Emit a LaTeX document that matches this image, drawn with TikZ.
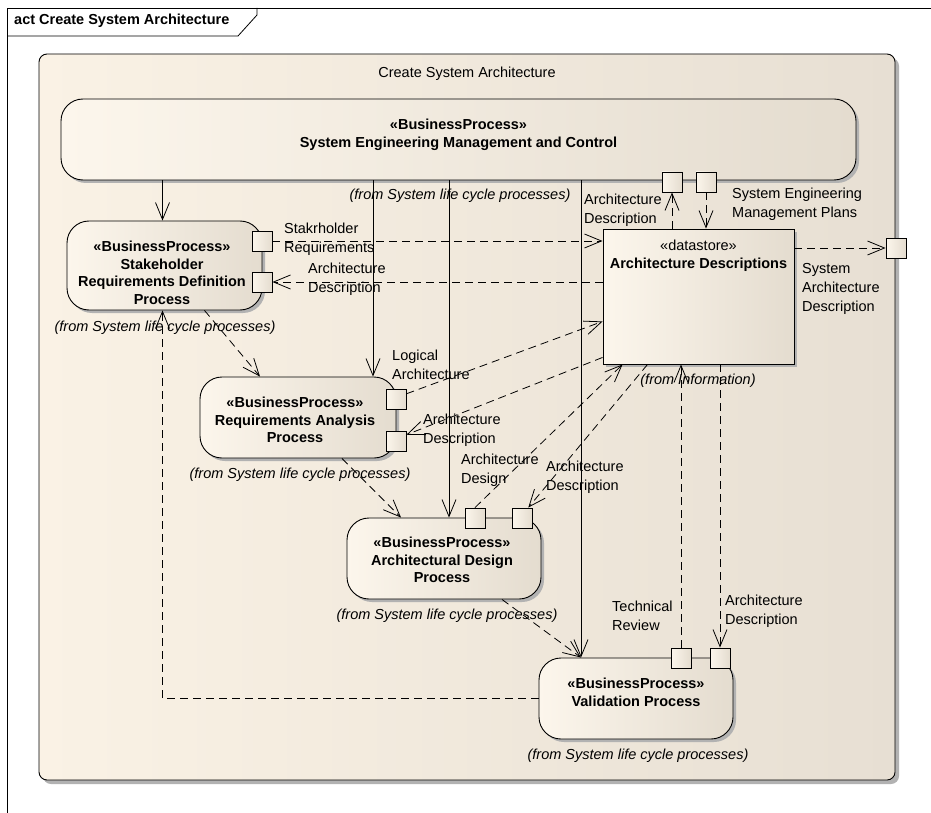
\documentclass[tikz,border=0pt]{standalone}
\usepackage{fontspec}
\setmainfont{Liberation Sans}
\usetikzlibrary{arrows.meta,calc,shadows}
\definecolor{bgL}{RGB}{250,242,229}
\definecolor{bgR}{RGB}{231,223,211}
\definecolor{ndL}{RGB}{252,246,236}
\definecolor{ndR}{RGB}{228,220,207}
\definecolor{shd}{RGB}{178,178,178}
\tikzset{
  container/.style={draw, line width=0.9pt, rounded corners=8pt, left color=bgL, right color=bgR,
    drop shadow={shadow xshift=4pt, shadow yshift=-4pt, fill=shd, opacity=1}, inner sep=0},
  proc/.style={draw, line width=0.9pt, rounded corners=22pt, left color=ndL, right color=ndR,
    drop shadow={shadow xshift=3pt, shadow yshift=-3pt, fill=shd, opacity=1}, inner sep=0},
  store/.style={draw, line width=0.9pt, left color=ndL, right color=ndR,
    drop shadow={shadow xshift=3pt, shadow yshift=-3pt, fill=shd, opacity=1}, inner sep=0},
  port/.style={draw, line width=0.9pt, left color=ndL, right color=ndR,
    minimum width=20pt, minimum height=20pt, inner sep=0},
  ctrl/.style={line width=0.8pt, -{Straight Barb[length=17pt,width=14pt]}},
  objf/.style={ctrl, dash pattern=on 8pt off 5pt},
  ptext/.style={font=\bfseries\fontsize{14.5}{17.5}\selectfont, align=center, inner sep=0, anchor=north},
  lbl/.style={font=\fontsize{14.5}{19}\selectfont, align=left, inner sep=0, anchor=north west},
  fromtxt/.style={font=\itshape\fontsize{14.5}{17}\selectfont, inner sep=0},
}
\begin{document}
\begin{tikzpicture}[x=1pt,y=-1pt]
\useasboundingbox (0,0) rectangle (931,813);
\fill[white] (0,0) rectangle (931,813);

% outer frame
\draw[line width=0.8pt] (7,813) -- (7,8) -- (931,8);
\draw[line width=0.8pt] (7,36) -- (238,36) -- (257,15) -- (257,8);
\node[anchor=west, font=\bfseries\fontsize{14.5}{17}\selectfont, inner sep=0] (title) at (14,21) {act Create System Architecture};

% activity container
\node[container, minimum width=856, minimum height=726] (act) at (467,417) {};
\node[font=\fontsize{14.5}{17}\selectfont, inner sep=0] (acttitle) at (467,74) {Create System Architecture};

% process nodes
\node[proc, minimum width=795, minimum height=81] (semc) at (458.5,139.5) {};
\node[ptext] (semct) at (458.5,118.8) {«BusinessProcess»\\System Engineering Management and Control};

\node[proc, minimum width=195, minimum height=89] (sh) at (164.5,265.5) {};
\node[ptext] (sht) at (162,240.8) {«BusinessProcess»\\Stakeholder\\Requirements Definition\\Process};

\node[proc, minimum width=196, minimum height=81] (ra) at (298,417.5) {};
\node[ptext] (rat) at (295,396.8) {«BusinessProcess»\\Requirements Analysis\\Process};

\node[proc, minimum width=194, minimum height=81] (ad) at (444,558.5) {};
\node[ptext] (adt) at (442,536.8) {«BusinessProcess»\\Architectural Design\\Process};

\node[proc, minimum width=194, minimum height=81] (val) at (636,698.5) {};
\node[ptext] (valt) at (636,677.8) {«BusinessProcess»\\Validation Process};

\node[store, minimum width=191, minimum height=135] (ds) at (698.5,296.5) {};
\node[font=\fontsize{14.5}{18}\selectfont, align=center, inner sep=0, anchor=north] (dst) at (698.5,239.8) {«datastore»\\\textbf{Architecture Descriptions}};

% ports
\node[port] (semcp1) at (672,182) {};
\node[port] (semcp2) at (706,182) {};
\node[port] (shp1) at (262,241) {};
\node[port] (shp2) at (262,282) {};
\node[port] (rap1) at (396,399) {};
\node[port] (rap2) at (396,441) {};
\node[port] (adp1) at (475,518) {};
\node[port] (adp2) at (522,518) {};
\node[port] (valp1) at (681,658) {};
\node[port] (valp2) at (720,658) {};
\node[port] (outp) at (896,248) {};

% control flows from SEMC
\coordinate (raIn) at ($(ra.north)+(75,0)$);
\coordinate (adIn) at ($(ad.north)+(5,0)$);
\coordinate (valIn) at ($(val.north)+(-55,0)$);
\coordinate (shIn) at ($(sh.north)+(-2,0)$);
\draw[ctrl] (shIn |- semc.south) -- (shIn);
\draw[ctrl] (raIn |- semc.south) -- (raIn);
\draw[ctrl] (adIn |- semc.south) -- (adIn);
\draw[ctrl] (valIn |- semc.south) -- (valIn);

% control flows between processes
\draw[objf] ($(sh.south)+(40,0)$) -- ($(ra.north)+(-38,0)$);
\draw[objf] ($(ra.south)+(44,0)$) -- ($(ad.north)+(-43,0)$);
\draw[objf] ($(ad.south)+(58,0)$) -- (valIn);
\draw[objf] (val.west) -| (shIn |- sh.south);

% object flows
\draw[objf] (shp1.east) -- (shp1.east -| ds.west);
\draw[objf] (shp2.east -| ds.west) -- (shp2.east);
\draw[objf] ($(rap1.east)!0.5!(rap1.north east)$) -- ($(ds.south west)+(0,-43)$);
\draw[objf] ($(ds.south west)+(0,-7)$) -- ($(rap2.east)!0.6!(rap2.north east)$);
\draw[objf] (adp1.north) -- ($(ds.south west)+(20,0)$);
\draw[objf] ($(ds.south west)+(45,0)$) -- ($(adp2.north)!0.6!(adp2.north east)$);
\draw[objf] (valp1.north) -- (valp1.north |- ds.south);
\draw[objf] (valp2.north |- ds.south) -- (valp2.north);
\draw[objf] (semcp1.south |- ds.north) -- (semcp1.south);
\draw[objf] (semcp2.south) -- (semcp2.south |- ds.north);
\draw[objf] (ds.east |- outp) -- (outp.west);

% labels
\node[lbl] (l1) at (284,222.8) {Stakrholder\\Requirements};
\node[lbl] (l2) at (308,262.8) {Architecture\\Description};
\node[lbl] (l3) at (584,193.8) {Architecture\\Description};
\node[lbl] (l4) at (732,187.8) {System Engineering\\Management Plans};
\node[lbl] (l5) at (802,262.8) {System\\Architecture\\Description};
\node[lbl] (l6) at (392,349.8) {Logical\\Architecture};
\node[lbl] (l7) at (423,413.8) {Architecture\\Description};
\node[lbl] (l8) at (461,453.8) {Architecture\\Design};
\node[lbl] (l9) at (546,460.8) {Architecture\\Description};
\node[lbl] (l10) at (612,600.8) {Technical\\Review};
\node[lbl] (l11) at (725,594.8) {Architecture\\Description};

% from-labels
\node[fromtxt] (f1) at (460,196) {(from System life cycle processes)};
\node[fromtxt] (f2) at (165,328) {(from System life cycle processes)};
\node[fromtxt] (f3) at (300,475) {(from System life cycle processes)};
\node[fromtxt] (f4) at (447,616) {(from System life cycle processes)};
\node[fromtxt] (f5) at (638,756) {(from System life cycle processes)};
\node[fromtxt] (f6) at (698,381) {(from Information)};
\end{tikzpicture}
\end{document}
